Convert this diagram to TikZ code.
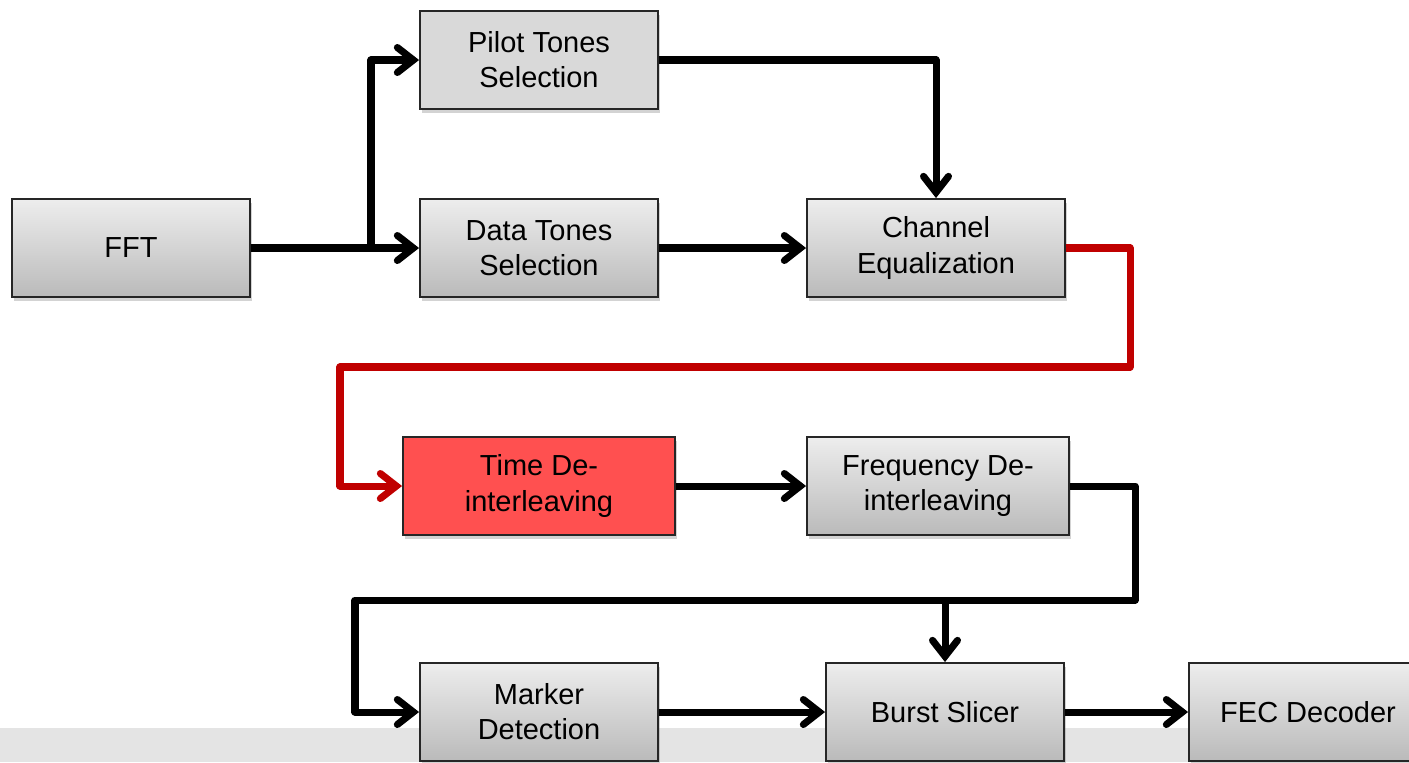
\documentclass[tikz,border=0pt]{standalone}
\usepackage{fontspec}
\setmainfont{Liberation Sans}
\usepackage{tikz}
\usetikzlibrary{arrows.meta, positioning, shadows, backgrounds}

\definecolor{boxred}{HTML}{FF5050}
\definecolor{linered}{HTML}{C00000}
\definecolor{bandgray}{HTML}{E4E4E4}

\begin{document}
\begin{tikzpicture}[
    x=0.02cm, y=-0.02cm,
    every node/.style={font=\fontsize{16.5}{20}\selectfont},
    block/.style={rectangle, draw=black!85, line width=1.1pt, top color=black!7, bottom color=black!27, minimum width=4.76cm, minimum height=1.96cm, align=center, inner sep=2pt, drop shadow={shadow xshift=1pt, shadow yshift=-2pt, opacity=0.35}},
    flatblock/.style={block, top color=black!15, bottom color=black!15},
    hotblock/.style={block, top color=boxred, bottom color=boxred},
    arrow/.style={-{Straight Barb[length=0.32cm, width=0.5cm, line cap=round]}, line width=4pt, line join=round},
    redarrow/.style={arrow, draw=linered}
]

% Bounding box and bottom band
\useasboundingbox (0,0) rectangle (1409,762);
\begin{scope}[on background layer]
    \fill[bandgray] (0,728) rectangle (1409,762);
\end{scope}

% Front end
\node[block] (fft) at (131,248) {FFT};
\node[flatblock] (pilot) at (539,60) {Pilot Tones\\Selection};
\node[block] (datatones) at (539,248) {Data Tones\\Selection};
\node[block, minimum width=5.16cm] (chaneq) at (936,248) {Channel\\Equalization};

% De-interleaving
\node[hotblock, minimum width=5.44cm] (timedeint) at (539,486) {Time De-\\interleaving};
\node[block, minimum width=5.24cm] (freqdeint) at (938,486) {Frequency De-\\interleaving};

% Back end
\node[block] (marker) at (539,712) {Marker\\Detection};
\node[block] (burst) at (945,712) {Burst Slicer};
\node[block] (fec) at (1308,712) {FEC Decoder};

% Turning points
\coordinate (split) at (371,248);
\coordinate (redA) at (1130,367);
\coordinate (redB) at (340,367);
\coordinate (fdA) at (1135,600);
\coordinate (fdB) at (355,600);
\coordinate (fdTap) at (945,600);

% Connections
\draw[arrow] (fft.east) -- (datatones.west);
\draw[arrow] (split) |- (pilot.west);
\draw[arrow] (pilot.east) -| (chaneq.north);
\draw[arrow] (datatones) -- (chaneq);
\draw[redarrow] (chaneq.east) -| (redA) -- (redB) |- (timedeint.west);
\draw[arrow] (timedeint) -- (freqdeint);
\draw[arrow] (freqdeint.east) -| (fdA) -- (fdB) |- (marker.west);
\draw[arrow] (fdTap) -- (burst.north);
\draw[arrow] (marker) -- (burst);
\draw[arrow] (burst) -- (fec);

\end{tikzpicture}
\end{document}
